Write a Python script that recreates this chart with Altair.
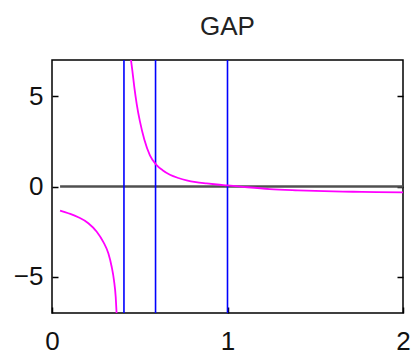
import altair as alt
import pandas as pd

# Lower branch of the GAP curve (left of the pole)
lower_x = [0.046, 0.093, 0.15, 0.207, 0.255, 0.292, 0.321, 0.340, 0.353, 0.363, 0.368]
lower_y = [-1.33, -1.48, -1.70, -2.03, -2.50, -3.06, -3.70, -4.44, -5.18, -6.11, -7.0]

# Upper branch (right of the pole)
upper_x = [0.450, 0.458, 0.469, 0.483, 0.501, 0.526, 0.558, 0.596, 0.63, 0.672,
           0.72, 0.767, 0.82, 0.881, 0.94, 1.0, 1.1, 1.24, 1.4, 1.55,
           1.715, 1.85, 2.0]
upper_y = [7.0, 6.4, 5.5, 4.55, 3.6, 2.6, 1.72, 1.18, 0.9, 0.65,
           0.47, 0.34, 0.24, 0.17, 0.11, 0.06, -0.03, -0.14, -0.21, -0.26,
           -0.29, -0.31, -0.32]

# Zero reference line
zero_x = [0.046, 2.0]
zero_y = [0.0, 0.0]

# Vertical blue markers
blue_x = [0.41, 0.59, 1.0]

y_ticks = [-5, 0, 5]
x_ticks = [0, 1, 2]

curve = pd.DataFrame({
    "x": lower_x + upper_x,
    "y": lower_y + upper_y,
    "branch": ["lower"] * len(lower_x) + ["upper"] * len(upper_x),
})
zero = pd.DataFrame({"x": zero_x, "y": zero_y})
blue = pd.DataFrame({"x": blue_x})

FONT = "Liberation Sans"
FS = 26

xscale = alt.Scale(domain=[0, 2], nice=False, zero=False)
yscale = alt.Scale(domain=[-7, 7], nice=False, zero=False)

x_enc = alt.X("x:Q", scale=xscale, axis=alt.Axis(
    values=x_ticks, labelExpr="format(datum.value, 'd')", title=None, grid=False,
    domain=False, offset=-6, tickSize=6, tickColor="black", tickWidth=1.5,
    labelFontSize=FS, labelColor="#111111", labelPadding=15, labelFont=FONT,
    labelFlush=False))

left_axis = alt.Axis(values=y_ticks, format="d", title=None, grid=False, domain=False,
                     orient="left", offset=-6, tickSize=6, tickColor="black",
                     tickWidth=1.5, labelFontSize=FS, labelColor="#111111",
                     labelPadding=9, labelFont=FONT, labelFlush=False)
right_axis = alt.Axis(values=y_ticks, title=None, grid=False, domain=False,
                      orient="right", offset=-6, tickSize=6, tickColor="black",
                      tickWidth=1.5, labels=False)

zero_layer = alt.Chart(zero).mark_line(color="#505050", strokeWidth=2.4).encode(
    x=x_enc, y=alt.Y("y:Q", scale=yscale, axis=right_axis))

blue_layer = alt.Chart(blue).mark_rule(color="#0000ff", strokeWidth=1.6).encode(
    x=alt.X("x:Q", scale=xscale))

curve_layer = alt.Chart(curve).mark_line(
    color="#ff00ff", strokeWidth=1.8, clip=True, interpolate="monotone").encode(
    x=alt.X("x:Q", scale=xscale),
    y=alt.Y("y:Q", scale=yscale, axis=left_axis),
    detail="branch:N")

chart = alt.layer(zero_layer, blue_layer, curve_layer).resolve_scale(
    y="independent"
).properties(
    width=351, height=253,
    autosize=alt.AutoSizeParams(type="none"),
    padding={"left": 52, "top": 60, "right": 13, "bottom": 41},
    title=alt.TitleParams("GAP", fontSize=FS, font=FONT, fontWeight="normal",
                          color="#222222", anchor="middle", baseline="bottom",
                          frame="group", offset=19, dy=26),
).configure_view(stroke="black", strokeWidth=1.5)

chart.save("out.html", embed_options={"renderer": "svg", "actions": False})
